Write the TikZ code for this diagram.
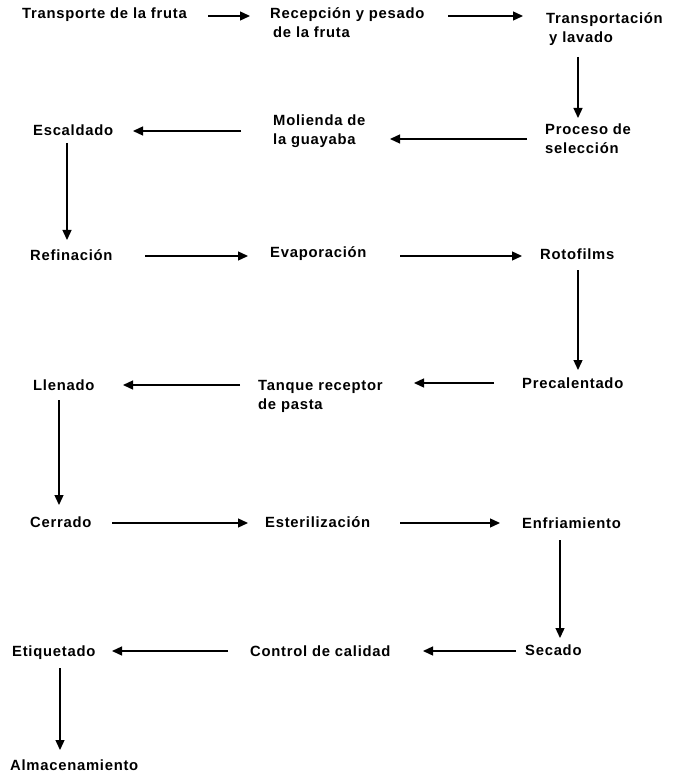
\documentclass[tikz,border=0pt]{standalone}
\usepackage{fontspec}
\setmainfont[LetterSpace=5]{Liberation Sans}
\usetikzlibrary{arrows.meta,calc}
\tikzset{
  lbl/.style={anchor=base west, inner sep=0pt, align=left,
    font=\fontsize{14.8}{19}\selectfont\bfseries},
  arr/.style={line width=1.3pt, -{Triangle[length=10pt,width=9pt]}}
}
\begin{document}
\begin{tikzpicture}[x=1pt,y=-1pt]
\useasboundingbox (0,0) rectangle (672,775);
% multi-line nodes are placed by the baseline of their last line
\node[lbl] (t1) at (22,19) {Transporte de la fruta};
\node[lbl] (t2) at (270,38) {Recepción y pesado\\\hspace*{3pt}de la fruta};
\node[lbl] (t3) at (546,43) {Transportación\\\hspace*{3pt}y lavado};
\node[lbl] (t4) at (545,154) {Proceso de\\selección};
\node[lbl] (t5) at (273,145) {Molienda de\\la guayaba};
\node[lbl] (t6) at (33,136) {Escaldado};
\node[lbl] (t7) at (30,261) {Refinación};
\node[lbl] (t8) at (270,258) {Evaporación};
\node[lbl] (t9) at (540,259) {Rotofilms};
\node[lbl] (t10) at (522,388) {Precalentado};
\node[lbl] (t11) at (258,409) {Tanque receptor\\de pasta};
\node[lbl] (t12) at (33,390) {Llenado};
\node[lbl] (t13) at (30,527) {Cerrado};
\node[lbl] (t14) at (265,527) {Esterilización};
\node[lbl] (t15) at (522,528) {Enfriamiento};
\node[lbl] (t16) at (525,655) {Secado};
\node[lbl] (t17) at (250,656) {Control de calidad};
\node[lbl] (t18) at (12,656) {Etiquetado};
\node[lbl] (t19) at (10,770) {Almacenamiento};

\draw[arr] ($(t1.base west)+(186,-3)$) -- ($(t2.base west)+(-20,-22)$);
\draw[arr] ($(t2.base west)+(178,-22)$) -- ($(t3.base west)+(-23,-27)$);
\draw[arr] ($(t3.base west)+(32,14)$) -- ($(t4.base west)+(33,-36)$);
\draw[arr] ($(t4.base west)+(-18,-15)$) -- ($(t5.base west)+(117,-6)$);
\draw[arr] ($(t5.base west)+(-32,-14)$) -- ($(t6.base west)+(100,-5)$);
\draw[arr] ($(t6.base west)+(34,7)$) -- ($(t7.base west)+(37,-21)$);
\draw[arr] ($(t7.base west)+(115,-5)$) -- ($(t8.base west)+(-22,-2)$);
\draw[arr] ($(t8.base west)+(130,-2)$) -- ($(t9.base west)+(-18,-3)$);
\draw[arr] ($(t9.base west)+(38,11)$) -- ($(t10.base west)+(56,-18)$);
\draw[arr] ($(t10.base west)+(-28,-5)$) -- ($(t11.base west)+(156,-26)$);
\draw[arr] ($(t11.base west)+(-18,-24)$) -- ($(t12.base west)+(90,-5)$);
\draw[arr] ($(t12.base west)+(26,10)$) -- ($(t13.base west)+(29,-22)$);
\draw[arr] ($(t13.base west)+(82,-4)$) -- ($(t14.base west)+(-17,-4)$);
\draw[arr] ($(t14.base west)+(135,-4)$) -- ($(t15.base west)+(-22,-5)$);
\draw[arr] ($(t15.base west)+(38,12)$) -- ($(t16.base west)+(35,-17)$);
\draw[arr] ($(t16.base west)+(-9,-4)$) -- ($(t17.base west)+(173,-5)$);
\draw[arr] ($(t17.base west)+(-22,-5)$) -- ($(t18.base west)+(100,-5)$);
\draw[arr] ($(t18.base west)+(48,12)$) -- ($(t19.base west)+(50,-20)$);
\end{tikzpicture}
\end{document}
